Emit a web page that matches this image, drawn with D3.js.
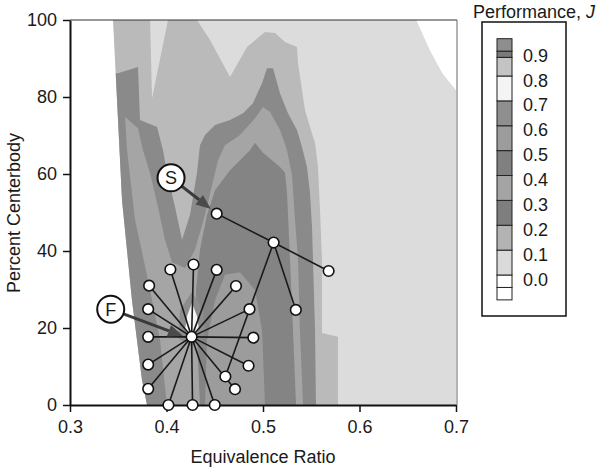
<!DOCTYPE html>
<html><head><meta charset="utf-8">
<script src="https://cdn.jsdelivr.net/npm/d3@7"></script>
<style>
body{margin:0;background:#fff}
svg text{font-family:"Liberation Sans",Arial,Helvetica,sans-serif;fill:#1a1a1a}
</style>
</head><body>
<svg id="chart" width="599" height="471"></svg>
<script>
// axis ticks
const xTicks = [0.3, 0.4, 0.5, 0.6, 0.7];
const yTicks = [0, 20, 40, 60, 80, 100];

// measured region of the map (equivalence ratio, percent centerbody)
const measuredRegion = [[0.3446,100],[0.3539,53.2],[0.3642,27.3],[0.3746,6.5],[0.3798,0],[0.70,0],[0.70,81.8],[0.686,86.2],[0.673,92.2],[0.659,100]];

// regions where J reaches each contour level
const levelJ01 = [[0.33,100],[0.383,100],[0.385,79.7],[0.4016,100],[0.4316,100],[0.4451,94.8],[0.4658,85.2],[0.4834,93.0],[0.5021,96.9],[0.5124,96.6],[0.5228,94.3],[0.5352,93.0],[0.5363,88.8],[0.5404,81.8],[0.5435,76.6],[0.5487,72.2],[0.5539,68.1],[0.557,61.8],[0.5591,50.6],[0.5611,37.7],[0.5611,18.7],[0.5777,17.7],[0.5777,0],[0.33,0]];
const levelJ02 = [[0.33,86.2],[0.3497,86.2],[0.3705,87.8],[0.3725,74.0],[0.3902,72.2],[0.3964,66.2],[0.4005,60.3],[0.4088,51.4],[0.4161,42.9],[0.4244,49.4],[0.4316,60.3],[0.4347,67.5],[0.4399,70.1],[0.4503,72.7],[0.4658,74.0],[0.4793,75.8],[0.4896,78.4],[0.499,83.6],[0.5041,87.5],[0.5104,87.5],[0.5176,81.0],[0.5259,75.8],[0.5352,71.4],[0.5404,67.0],[0.5456,61.8],[0.5487,55.1],[0.5508,46.2],[0.5518,37.7],[0.5539,19.5],[0.5549,0],[0.33,0]];
const levelJ03 = [[0.357,74.8],[0.3591,66.2],[0.3674,48.1],[0.3808,32.5],[0.3933,16.9],[0.4005,0],[0.5415,0],[0.5383,19.5],[0.5363,37.7],[0.5332,48.1],[0.5301,59.7],[0.5249,66.2],[0.5176,71.4],[0.5073,76.1],[0.5,77.4],[0.4917,74.5],[0.4762,70.1],[0.4606,67.5],[0.4534,63.6],[0.4472,57.1],[0.4399,49.4],[0.4295,40.3],[0.4192,35.6],[0.4057,37.1],[0.3984,42.9],[0.3912,51.4],[0.3829,60.3],[0.3756,66.2],[0.3705,71.9]];
const levelJ04 = [[0.4917,68.1],[0.5,65.5],[0.5176,61.8],[0.5228,60.3],[0.5249,55.1],[0.528,37.7],[0.5311,19.5],[0.5342,0],[0.4347,0],[0.4316,16.9],[0.4306,29.9],[0.4347,40.3],[0.442,49.4],[0.4503,55.8],[0.4658,61.0],[0.4762,63.6],[0.4865,66.2]];
const levelJ05 = [[0.4503,27.3],[0.4606,33.8],[0.4762,34.5],[0.4917,29.9],[0.499,19.5],[0.5021,0],[0.4399,0],[0.442,16.9]];
const levelJ06 = [[0.4264,29.4],[0.4378,24.7],[0.4399,18.2],[0.4264,15.1],[0.4119,17.4],[0.4140,24.7]];
const levelJ07 = [[0.4264,26.5],[0.4316,23.1],[0.4337,19.5],[0.4264,17.4],[0.4192,19.5],[0.4213,23.1]];

const contourLevels = [0.0, 0.1, 0.2, 0.3, 0.4, 0.5, 0.6, 0.7];
const contourRegions = [measuredRegion, levelJ01, levelJ02, levelJ03, levelJ04, levelJ05, levelJ06, levelJ07];
const contourColors = ["#dcdcdc", "#bababa", "#8a8a8a", "#a5a5a5", "#848484", "#9c9c9c", "#8d8d8d", "#f6f6f6"];

// legend
const legendBandLow  = [-0.1, -0.05, 0.0, 0.1, 0.2, 0.3, 0.4, 0.5, 0.6, 0.7, 0.8, 0.875, 0.9];
const legendBandHigh = [-0.05, 0.0, 0.1, 0.2, 0.3, 0.4, 0.5, 0.6, 0.7, 0.8, 0.875, 0.9, 0.95];
const legendColors   = ["#ffffff", "#ffffff", "#dadada", "#b3b3b3", "#7e7e7e", "#a4a4a4", "#808080", "#9c9c9c", "#8f8f8f", "#f4f4f4", "#c4c4c4", "#7a7a7a", "#8e8e8e"];
const legendLabels   = ["0.9", "0.8", "0.7", "0.6", "0.5", "0.4", "0.3", "0.2", "0.1", "0.0"];
const legendLabelValues = [0.9, 0.8, 0.7, 0.6, 0.5, 0.4, 0.3, 0.2, 0.1, 0.0];

// test points: star pattern around the F condition
const starCenter = [0.426, 17.7];
const starPoints = [[0.428,36.5],[0.404,35.2],[0.452,35.1],[0.382,31.0],[0.472,30.9],[0.381,24.9],[0.486,24.9],[0.381,17.7],[0.490,17.5],[0.381,10.5],[0.485,10.2],[0.381,4.2],[0.471,4.1],[0.402,0],[0.427,0],[0.450,0]];
// second search path starting at the S condition
const pathMain = [[0.452,49.7],[0.511,42.2],[0.568,34.8]];
const pathBranchA = [[0.511,42.2],[0.534,24.7]];
const pathBranchB = [[0.511,42.2],[0.461,7.4]];

// callouts
const calloutText = ["S", "F"];
const calloutAt = [[0.4047,59.0],[0.3422,24.9]];
const calloutTip = [[0.4461,50.9],[0.4171,17.9]];

const svg = d3.select("#chart");
const x = d3.scaleLinear().domain([0.3, 0.7]).range([70, 456]);
const y = d3.scaleLinear().domain([0, 100]).range([405, 20]);
const line = d3.line().x(d => x(d[0])).y(d => y(d[1]));

// clip to the measured region
svg.append("defs").append("clipPath").attr("id", "measured")
  .append("path").attr("d", line(measuredRegion) + "Z");

const map = svg.append("g").attr("clip-path", "url(#measured)");
map.selectAll("path").data(contourRegions).join("path")
  .attr("d", d => line(d) + "Z")
  .attr("fill", (d, i) => contourColors[i])
  .attr("stroke", "none");

// frame
svg.append("line").attr("x1", x(0.3)).attr("x2", x(0.7) + 1).attr("y1", y(100)).attr("y2", y(100))
  .attr("stroke", "#333").attr("stroke-width", 1.2);
svg.append("line").attr("x1", x(0.7) + 1).attr("x2", x(0.7) + 1).attr("y1", y(100)).attr("y2", y(0))
  .attr("stroke", "#666").attr("stroke-width", 1);

// axes
const xAxis = svg.append("g").attr("transform", `translate(0,${y(0)})`)
  .call(d3.axisBottom(x).tickValues(xTicks).tickFormat(d3.format(".1f")).tickSize(7).tickSizeOuter(0).tickPadding(8));
const yAxis = svg.append("g").attr("transform", `translate(${x(0.3)},0)`)
  .call(d3.axisLeft(y).tickValues(yTicks).tickFormat(d3.format("d")).tickSize(7).tickSizeOuter(0).tickPadding(6));
[xAxis, yAxis].forEach(g => {
  g.select(".domain").attr("stroke", "#111").attr("stroke-width", 2);
  g.selectAll(".tick line").attr("stroke", "#111").attr("stroke-width", 1.5);
  g.selectAll(".tick text").attr("font-size", 18).attr("fill", "#1a1a1a")
    .style("font-family", '"Liberation Sans", Arial, sans-serif');
});

svg.append("text").attr("x", 263).attr("y", 463).attr("text-anchor", "middle")
  .attr("font-size", 18).text("Equivalence Ratio");
svg.append("text").attr("transform", "translate(20,213) rotate(-90)").attr("text-anchor", "middle")
  .attr("font-size", 18).text("Percent Centerbody");

// search paths
const overlay = svg.append("g");
starPoints.forEach(p => {
  overlay.append("path").attr("d", line([starCenter, p])).attr("stroke", "#1a1a1a").attr("stroke-width", 1.6).attr("fill", "none");
});
[pathMain, pathBranchA, pathBranchB].forEach(p => {
  overlay.append("path").attr("d", line(p)).attr("stroke", "#1a1a1a").attr("stroke-width", 1.6).attr("fill", "none");
});

// callout arrows
calloutText.forEach((t, i) => {
  const x0 = x(calloutAt[i][0]), y0 = y(calloutAt[i][1]);
  const x1 = x(calloutTip[i][0]), y1 = y(calloutTip[i][1]);
  const a = Math.atan2(y1 - y0, x1 - x0);
  const L = 15, W = 6;
  const bx = x1 - L * Math.cos(a), by = y1 - L * Math.sin(a);
  overlay.append("line").attr("x1", x0).attr("y1", y0).attr("x2", bx).attr("y2", by)
    .attr("stroke", "#3a3a3a").attr("stroke-width", 3);
  overlay.append("path")
    .attr("d", `M${x1},${y1}L${bx + W * Math.sin(a)},${by - W * Math.cos(a)}L${bx - W * Math.sin(a)},${by + W * Math.cos(a)}Z`)
    .attr("fill", "#4a4a4a");
});

// test points
const allPoints = [starCenter, ...starPoints, ...pathMain, pathBranchA[1], pathBranchB[1]];
overlay.selectAll("circle.pt").data(allPoints).join("circle").attr("class", "pt")
  .attr("cx", d => x(d[0])).attr("cy", d => y(d[1])).attr("r", 5.3)
  .attr("fill", "#fff").attr("stroke", "#111").attr("stroke-width", 1.6);

// callout labels
calloutText.forEach((t, i) => {
  const cx = x(calloutAt[i][0]), cy = y(calloutAt[i][1]);
  overlay.append("circle").attr("cx", cx).attr("cy", cy).attr("r", 13.5)
    .attr("fill", "#fff").attr("stroke", "#111").attr("stroke-width", 2);
  overlay.append("text").attr("x", cx).attr("y", cy + 6.5).attr("text-anchor", "middle")
    .attr("font-size", 18).text(t);
});

// legend
const legend = svg.append("g");
const ly = d3.scaleLinear().domain([0, 0.8]).range([275, 76]);
legend.append("text").attr("x", 473).attr("y", 18).attr("font-size", 18)
  .text("Performance, ").append("tspan").attr("font-style", "italic").text("J");
legend.append("rect").attr("x", 482).attr("y", 22).attr("width", 84).attr("height", 294)
  .attr("fill", "none").attr("stroke", "#111").attr("stroke-width", 1.5);
legendColors.forEach((c, i) => {
  legend.append("rect").attr("x", 497).attr("y", ly(legendBandHigh[i]))
    .attr("width", 15).attr("height", ly(legendBandLow[i]) - ly(legendBandHigh[i]))
    .attr("fill", c).attr("stroke", "#222").attr("stroke-width", 1);
});
legendLabels.forEach((t, i) => {
  legend.append("text").attr("x", 523).attr("y", ly(legendLabelValues[i]) + 10.5)
    .attr("font-size", 18).text(t);
});
</script>
</body></html>
